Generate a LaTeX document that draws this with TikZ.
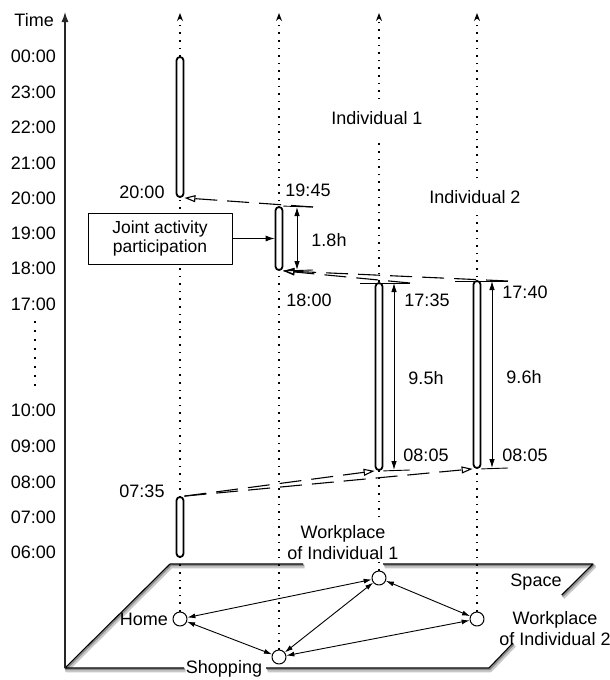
\documentclass[tikz,border=0pt]{standalone}
\usepackage{fontspec}
\setmainfont{Liberation Sans}
\usetikzlibrary{arrows.meta}
\begin{document}
\begin{tikzpicture}[x=1pt,y=-1pt,
  every node/.style={font=\fontsize{18}{21}\selectfont, inner sep=1pt},
  lbl/.style={text height=12.8pt, text depth=0pt},
  bar/.style={draw, line width=1.8pt, fill=white, rounded corners=3.5pt, minimum width=7pt, inner sep=0pt},
  col/.style={line width=1.6pt, dash pattern=on 1.6pt off 6pt, -{Stealth[length=8pt,width=6pt]}},
  trip/.style={line width=1.1pt, dash pattern=on 22pt off 10pt, -{Triangle[open,length=11pt,width=7pt]}},
  tick/.style={line width=0.9pt},
  dim/.style={line width=0.9pt, {Latex[length=9pt,width=5.5pt]}-{Latex[length=9pt,width=5.5pt]}},
  loc/.style={draw, circle, line width=1pt, minimum size=14pt, inner sep=0pt, fill=white},
  link/.style={line width=0.9pt, {Latex[length=8pt,width=5pt]}-{Latex[length=8pt,width=5pt]}},
  cover/.style={fill=white, inner xsep=2pt},
  line join=round
]
\useasboundingbox (0,0) rectangle (610,680);

% ---- space plane (with shadow)
\begin{scope}[shift={(1.5,2.5)}, black!22, line width=3.5pt]
  \draw (170,564)--(303,564) (383,564)--(593,564)--(561.7,595)
        (513,643)--(489,668)--(266,668) (184,668)--(65,668)--(170,564);
\end{scope}
\begin{scope}[shift={(0.8,1.2)}, black!45, line width=1.8pt]
  \draw (170,564)--(303,564) (383,564)--(593,564)--(561.7,595)
        (513,643)--(489,668)--(266,668) (184,668)--(65,668)--(170,564);
\end{scope}
\draw[line width=1.1pt] (170,564)--(303,564) (383,564)--(593,564)--(561.7,595)
      (513,643)--(489,668)--(266,668) (184,668)--(65,668)--(170,564);

% ---- locations
\node[loc] (home) at (180,619) {};
\node[loc] (shop) at (279,657) {};
\node[loc] (wp1) at (379,578) {};
\node[loc] (wp2) at (477,619) {};

\draw[link] (home) -- (wp1);
\draw[link] (home) -- (shop);
\draw[link] (shop) -- (wp1);
\draw[link] (shop) -- (wp2);
\draw[link] (wp1) -- (wp2);

\node[lbl, anchor=east] (homel) at (169,619) {Home};
\node[lbl] (shopl) at (224,667.5) {Shopping};
\node[lbl] (spacel) at (536,580) {Space};
\node[align=center] (wp2l) at (555,628.5) {Workplace\\of Individual 2};

% ---- column dotted lines
\coordinate (homeTop) at (180,13);
\coordinate (shopTop) at (279,13);
\coordinate (wp1Top) at (379,13);
\coordinate (wp2Top) at (477,13);
\draw[col] (home.north) -- (homeTop);
\draw[col] (shop.north) -- (shopTop);
\draw[col] (wp1.north) -- (wp1Top);
\draw[col] (wp2.north) -- (wp2Top);

% ---- time axis
\coordinate (origin) at (65,668);
\coordinate (ttop) at (65,12);
\draw[line width=1.2pt, black!85, -{Latex[length=10pt,width=7pt]}] (origin) -- (ttop);
\node[lbl, anchor=east] at (55,20) {Time};
\foreach \t/\y in {00:00/56, 23:00/92, 22:00/127, 21:00/163, 20:00/198, 19:00/233,
                   18:00/268, 17:00/304, 10:00/410, 09:00/446, 08:00/482, 07:00/517, 06:00/552}
  \node[lbl, anchor=east] at (57,\y) {\t};
\draw[line width=2.4pt, dash pattern=on 2.4pt off 6.6pt] (35,321) -- (35,388);

% ---- labels covering dotted lines
\node[lbl, cover, inner ysep=13pt] (ind1) at (377,118) {Individual 1};
\node[lbl, cover, inner ysep=12pt] (ind2) at (475,197) {Individual 2};
\node[align=center, cover, inner ysep=2pt] (wp1l) at (343,542.5) {Workplace\\of Individual 1};

% ---- activity bars
\node[bar, minimum height=140pt] (hb1) at (180,127) {};
\node[bar, minimum height=60pt] (hb2) at (180,527) {};
\node[bar, minimum height=63pt] (sb) at (279,238.5) {};
\node[bar, minimum height=187pt] (w1b) at (379,376.5) {};
\node[bar, minimum height=187pt] (w2b) at (477,374.5) {};

% ---- joint activity box
\node[draw, line width=0.9pt, fill=white, minimum width=144pt, minimum height=51pt,
      align=center, font=\fontsize{17.5}{19}\selectfont] (joint) at (160,238.5)
      {Joint activity\\participation};
\draw[line width=0.9pt, -{Latex[length=9pt,width=6pt]}] (joint) -- (sb);

% ---- ticks
\coordinate (e1945) at (313,207);
\coordinate (e1800) at (313,270);
\coordinate (c1735l) at (360,283);
\coordinate (c1735) at (410,283);
\coordinate (e0805a) at (410,470);
\coordinate (c1740l) at (455,281);
\coordinate (c1740) at (508,281);
\coordinate (e0805b) at (508,468);
\draw[tick] (sb.north east) -- (e1945);
\draw[tick] (sb.south east) -- (e1800);
\draw[tick] (c1735l) -- (c1735);
\draw[tick] (w1b.south east) -- (e0805a);
\draw[tick] (c1740l) -- (c1740);
\draw[tick] (w2b.south east) -- (e0805b);

% ---- trips (dashed)
\draw[trip] (e1945) -- (hb1.south east);
\draw[trip] (c1735) -- (sb.south east);
\draw[trip] (c1740) -- (sb.south east);
\draw[trip] (hb2.north east) -- (w1b.south west);
\draw[trip] (hb2.north east) -- (w2b.south west);

% ---- durations
\coordinate (d1a) at (297,207);
\coordinate (d1b) at (297,270);
\coordinate (d2a) at (394,283);
\coordinate (d2b) at (394,470);
\coordinate (d3a) at (492,281);
\coordinate (d3b) at (492,468);
\draw[dim] (d1a) -- (d1b);
\draw[dim] (d2a) -- (d2b);
\draw[dim] (d3a) -- (d3b);

% ---- time labels
\node[lbl] at (142,192) {20:00};
\node[lbl] at (308,190) {19:45};
\node[lbl] at (329,240) {1.8h};
\node[lbl] at (309,300) {18:00};
\node[lbl] at (427,300) {17:35};
\node[lbl] at (426,378) {9.5h};
\node[lbl] at (426,455) {08:05};
\node[lbl] at (525,292) {17:40};
\node[lbl] at (524,377) {9.6h};
\node[lbl] at (525,455) {08:05};
\node[lbl] at (142,491) {07:35};
\end{tikzpicture}
\end{document}
